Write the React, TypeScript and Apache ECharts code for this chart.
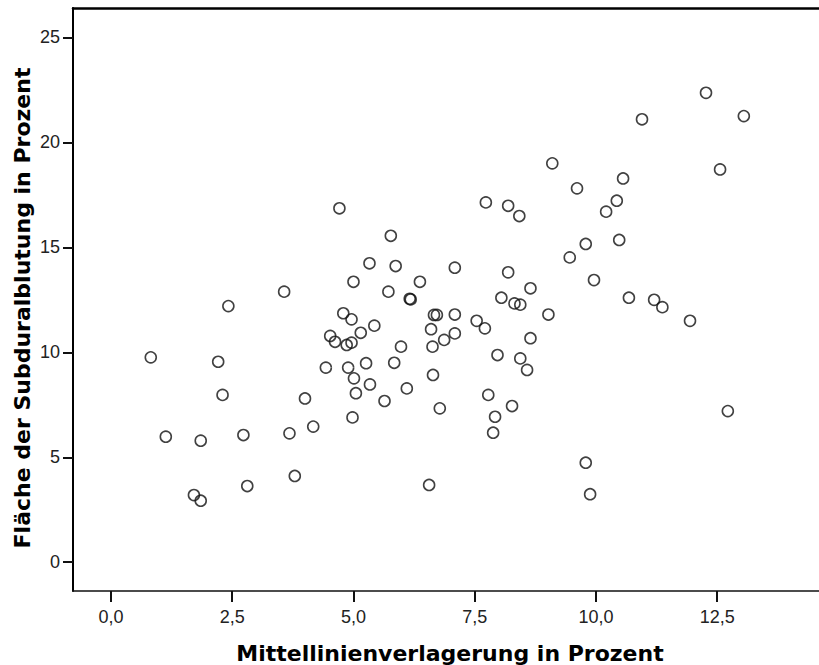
import React, { useEffect, useRef } from "react";
import * as echarts from "echarts";

const xTitle = "Mittellinienverlagerung in Prozent";
const yTitle = "Fläche der Subduralblutung in Prozent";

const xTicks = [0, 2.5, 5, 7.5, 10, 12.5];
const yTicks = [0, 5, 10, 15, 20, 25];

const midlineShift = [
  0.82, 1.13, 1.71, 1.85, 1.85, 2.21, 2.3, 2.42, 2.73, 2.81,
  3.57, 3.68, 3.79, 4.0, 4.17, 4.43, 4.52, 4.62, 4.71, 4.79,
  4.86, 4.89, 4.96, 4.96, 4.98, 5.0, 5.01, 5.05, 5.15, 5.26,
  5.33, 5.34, 5.43, 5.64, 5.72, 5.77, 5.84, 5.87, 5.98, 6.1,
  6.16, 6.18, 6.37, 6.56, 6.6, 6.63, 6.64, 6.66, 6.72, 6.78,
  6.87, 7.09, 7.09, 7.09, 7.54, 7.71, 7.73, 7.78, 7.88, 7.92,
  7.97, 8.05, 8.19, 8.19, 8.27, 8.32, 8.44, 8.42, 8.44, 8.58,
  8.65, 8.65, 9.02, 9.1, 9.46, 9.61, 9.79, 9.79, 9.88, 9.96,
  10.21, 10.43, 10.48, 10.56, 10.68, 10.95, 11.2, 11.37, 11.94, 12.27,
  12.56, 12.72, 13.05,
];

const hematomaArea = [
  9.76, 5.98, 3.2, 2.93, 5.79, 9.55, 7.97, 12.2, 6.06, 3.63,
  12.89, 6.14, 4.11, 7.8, 6.46, 9.27, 10.78, 10.5, 16.86, 11.86,
  10.35, 9.27, 11.57, 10.46, 6.9, 13.36, 8.76, 8.05, 10.93, 9.48,
  14.24, 8.47, 11.27, 7.68, 12.89, 15.55, 9.5, 14.11, 10.27, 8.28,
  12.55, 12.52, 13.36, 3.68, 11.1, 10.27, 8.92, 11.78, 11.78, 7.33,
  10.59, 14.03, 11.8, 10.9, 11.5, 11.14, 17.14, 7.97, 6.17, 6.93,
  9.87, 12.6, 13.81, 16.98, 7.44, 12.33, 12.27, 16.49, 9.71, 9.16,
  13.05, 10.67, 11.8, 19.0, 14.52, 17.81, 15.16, 4.74, 3.24, 13.44,
  16.7, 17.22, 15.35, 18.28, 12.6, 21.1, 12.5, 12.15, 11.5, 22.36,
  18.71, 7.2, 21.25,
];

const X_MIN = -0.784;
const X_MAX = 14.6;
const Y_MIN = -1.37;
const Y_MAX = 26.4;

export default function App() {
  const ref = useRef<HTMLDivElement>(null);

  useEffect(() => {
    if (!ref.current) return;
    const chart = echarts.init(ref.current, null, { renderer: "svg" });
    const data = midlineShift.map((x, i) => [x, hematomaArea[i]]);
    chart.setOption({
      animation: false,
      backgroundColor: "#ffffff",
      grid: {
        left: 73,
        top: 8,
        right: 0,
        bottom: 74,
        outerBoundsMode: "none",
      },
      xAxis: [
        {
          type: "value",
          min: X_MIN,
          max: X_MAX,
          splitLine: { show: false },
          axisLine: { show: true, onZero: false, lineStyle: { color: "#111", width: 1.5 } },
          axisTick: {
            show: true,
            length: 11,
            customValues: xTicks,
            lineStyle: { color: "#111", width: 2 },
          },
          axisLabel: {
            customValues: xTicks,
            margin: 17,
            color: "#222",
            fontFamily: "Liberation Sans",
            fontSize: 18,
            formatter: (v: number) => v.toFixed(1).replace(".", ","),
          },
        },
        {
          type: "value",
          position: "top",
          min: X_MIN,
          max: X_MAX,
          splitLine: { show: false },
          axisLine: { show: true, onZero: false, lineStyle: { color: "#000", width: 2.5 } },
          axisTick: { show: false },
          axisLabel: { show: false },
        },
      ],
      yAxis: {
        type: "value",
        min: Y_MIN,
        max: Y_MAX,
        splitLine: { show: false },
        axisLine: { show: true, onZero: false, lineStyle: { color: "#000", width: 2 } },
        axisTick: {
          show: true,
          length: 10,
          customValues: yTicks,
          lineStyle: { color: "#111", width: 2 },
        },
        axisLabel: {
          customValues: yTicks,
          margin: 13,
          color: "#222",
          fontFamily: "Liberation Sans",
          fontSize: 18,
          formatter: (v: number) => String(Math.round(v)),
        },
      },
      graphic: [
        {
          type: "text",
          x: 450,
          y: 653,
          style: {
            text: xTitle,
            font: "bold 22px 'DejaVu Sans'",
            fill: "#000",
            textAlign: "center",
            textVerticalAlign: "middle",
          },
        },
        {
          type: "text",
          x: 22,
          y: 308,
          rotation: Math.PI / 2,
          style: {
            text: yTitle,
            font: "bold 22px 'DejaVu Sans'",
            fill: "#000",
            textAlign: "center",
            textVerticalAlign: "middle",
          },
        },
      ],
      series: [
        {
          type: "scatter",
          xAxisIndex: 0,
          data,
          symbol: "circle",
          symbolSize: 11,
          itemStyle: {
            color: "rgba(255,255,255,0)",
            borderColor: "#111",
            borderWidth: 1.6,
          },
        },
      ],
    });
    return () => chart.dispose();
  }, []);

  return (
    <div
      ref={ref}
      style={{ position: "fixed", left: 0, top: 0, width: 819, height: 665, background: "#fff" }}
    />
  );
}
